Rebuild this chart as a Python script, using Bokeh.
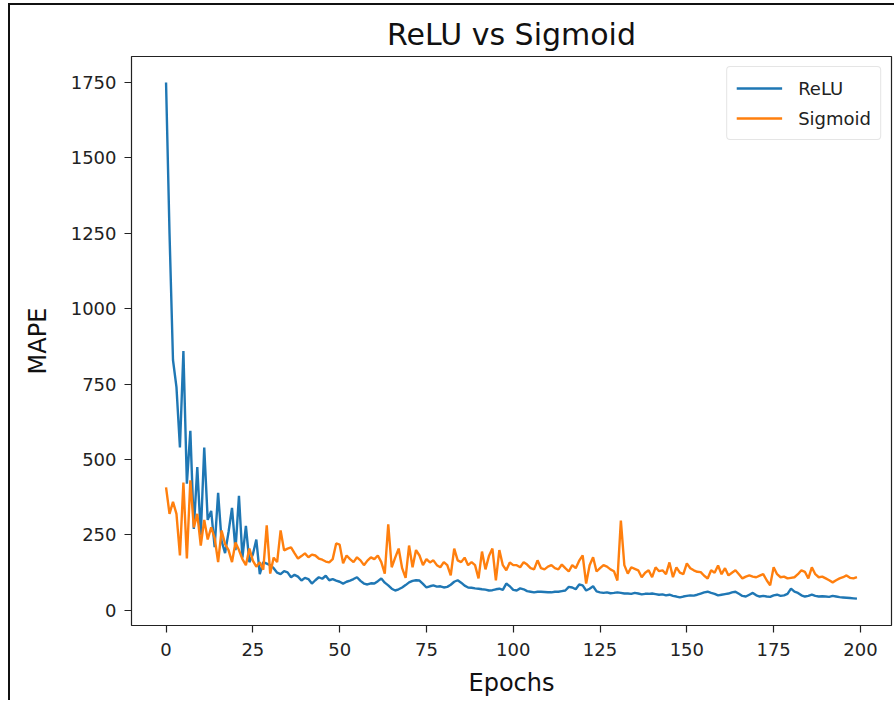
from bokeh.plotting import figure
from bokeh.models import Range1d, FixedTicker, Legend, LegendItem
from bokeh.embed import file_html
from bokeh.resources import INLINE

epochs = list(range(200))

relu = [
    1750, 1250, 830, 740, 540, 860, 420, 595, 270, 475,
    250, 540, 300, 330, 210, 390, 230, 190, 260, 340,
    200, 380, 175, 280, 160, 185, 235, 120, 160, 155,
    150, 140, 125, 120, 130, 126, 110, 118, 112, 99,
    108, 104, 89, 100, 110, 105, 115, 100, 104, 99,
    95, 89, 95, 99, 104, 110, 98, 89, 86, 90,
    89, 97, 106, 92, 83, 72, 66, 70, 76, 84,
    93, 98, 100, 99, 88, 76, 80, 83, 79, 80,
    76, 78, 85, 95, 100, 92, 82, 76, 75, 73,
    72, 70, 69, 66, 67, 70, 72, 68, 89, 80,
    68, 66, 73, 70, 64, 62, 60, 62, 62, 61,
    60, 60, 62, 62, 64, 66, 78, 76, 70, 86,
    83, 66, 72, 80, 63, 60, 58, 60, 57, 58,
    60, 58, 56, 56, 55, 58, 56, 53, 55, 55,
    56, 54, 52, 53, 50, 52, 48, 46, 43, 46,
    48, 50, 49, 52, 56, 60, 62, 58, 55, 50,
    52, 54, 56, 60, 62, 55, 48, 46, 52, 58,
    50, 46, 48, 46, 45, 50, 52, 48, 50, 55,
    72, 62, 58, 50, 46, 48, 52, 48, 46, 47,
    46, 45, 48, 46, 44, 43, 42, 41, 40, 39,
]

sigmoid = [
    408, 320, 360, 320, 182, 424, 172, 431, 275, 320,
    215, 300, 235, 275, 240, 160, 265, 220, 200, 160,
    225, 200, 170, 150, 205, 165, 145, 160, 135, 282,
    122, 175, 160, 265, 199, 205, 209, 190, 172, 180,
    189, 176, 185, 182, 172, 168, 162, 159, 170, 222,
    218, 156, 182, 170, 160, 176, 166, 150, 165, 176,
    170, 182, 160, 122, 285, 143, 175, 205, 140, 108,
    215, 143, 200, 182, 150, 170, 159, 166, 150, 143,
    160, 150, 116, 205, 166, 160, 175, 150, 160, 150,
    106, 195, 136, 180, 205, 100, 200, 150, 133, 159,
    150, 150, 143, 160, 152, 140, 136, 166, 140, 136,
    145, 150, 140, 136, 152, 140, 129, 150, 140, 165,
    182, 89, 150, 176, 129, 140, 150, 145, 136, 130,
    99, 298, 150, 122, 143, 138, 133, 110, 125, 133,
    110, 143, 130, 133, 120, 159, 110, 143, 125, 120,
    156, 140, 133, 128, 127, 115, 106, 133, 125, 149,
    120, 140, 116, 125, 133, 120, 106, 112, 116, 112,
    110, 115, 120, 100, 83, 143, 120, 110, 112, 106,
    108, 110, 120, 133, 128, 106, 143, 120, 110, 112,
    106, 100, 93, 100, 106, 110, 116, 108, 106, 110,
]

x_ticks = [0, 25, 50, 75, 100, 125, 150, 175, 200]
y_ticks = [0, 250, 500, 750, 1000, 1250, 1500, 1750]

title_text = "ReLU vs Sigmoid"
x_label = "Epochs"
y_label = "MAPE"
series_names = ["ReLU", "Sigmoid"]
colors = ["#1f77b4", "#ff7f0e"]

FONT = "DejaVu Sans"

p = figure(
    width=886, height=697,
    output_backend="svg", toolbar_location=None,
    x_range=Range1d(-9.95, 208.95), y_range=Range1d(-50, 1836),
    min_border_left=121, min_border_right=5, min_border_top=51, min_border_bottom=77,
    title=title_text,
)
p.styles = {
    "margin-left": "8px", "margin-top": "3px",
    "border-left": "2px solid #111", "border-top": "2px solid #111",
}
p.background_fill_color = "white"
p.border_fill_color = "white"
p.outline_line_color = "#222"
p.outline_line_width = 1.2
p.grid.visible = False

p.title.text_font = FONT
p.title.text_font_size = "30px"
p.title.text_font_style = "normal"
p.title.align = "center"
p.title.text_color = "#111"
p.title.offset = 0
p.title.standoff = 9

r1 = p.line(epochs, relu, line_color=colors[0], line_width=2.4)
r2 = p.line(epochs, sigmoid, line_color=colors[1], line_width=2.4)

for ax, ticks, lab in ((p.xaxis[0], x_ticks, x_label), (p.yaxis[0], y_ticks, y_label)):
    ax.ticker = FixedTicker(ticks=ticks)
    ax.axis_label = lab
    ax.axis_label_text_font = FONT
    ax.axis_label_text_font_size = "24px"
    ax.axis_label_text_font_style = "normal"
    ax.axis_label_text_color = "#111"
    ax.major_label_text_font = FONT
    ax.major_label_text_font_size = "18px"
    ax.major_label_text_color = "#222"
    ax.major_tick_out = 7
    ax.major_tick_in = 0
    ax.minor_tick_out = 0
    ax.minor_tick_in = 0
    ax.axis_line_color = None
    ax.major_tick_line_color = "#222"
    ax.major_tick_line_width = 1.2

p.xaxis[0].major_label_standoff = 10
p.xaxis[0].axis_label_standoff = 10
p.yaxis[0].major_label_standoff = 8
p.yaxis[0].axis_label_standoff = 16

legend = Legend(
    items=[LegendItem(label=series_names[0], renderers=[r1]),
           LegendItem(label=series_names[1], renderers=[r2])],
    location="top_right",
    margin=10,
    padding=9,
    spacing=6,
    glyph_width=46,
    glyph_height=24,
    label_standoff=16,
    label_text_font=FONT,
    label_text_font_size="18px",
    label_text_color="#222",
    border_line_color="#cccccc",
    border_line_width=1,
    border_radius=4,
    background_fill_alpha=0.9,
)
p.add_layout(legend)

open("out.html", "w").write(file_html(p, INLINE))
